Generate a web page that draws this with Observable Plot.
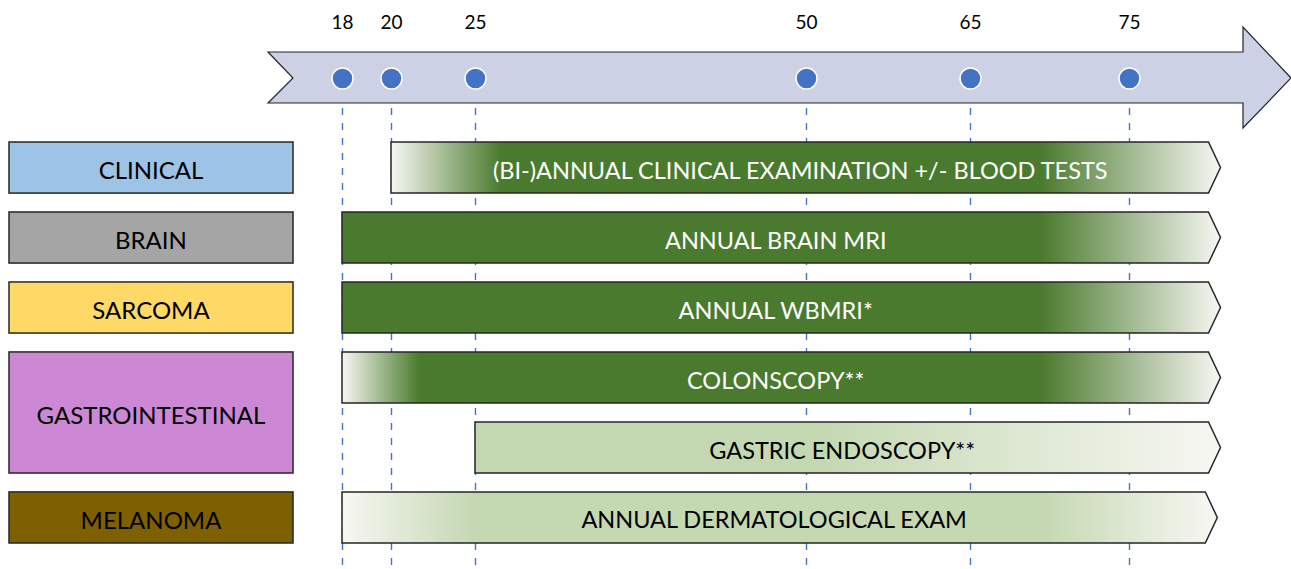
<!DOCTYPE html>
<html><head><meta charset="utf-8">
<script src="https://cdn.jsdelivr.net/npm/d3@7"></script>
<script src="https://cdn.jsdelivr.net/npm/@observablehq/plot@0.6"></script>
<style>html,body{margin:0;padding:0;background:#fff} svg{display:block}</style>
</head><body><div id="chart"></div>
<script>
// ---- data ----
const milestoneAges = [18, 20, 25, 50, 65, 75];
const tickLabels = ["18", "20", "25", "50", "65", "75"];
const groups = ["CLINICAL", "BRAIN", "SARCOMA", "GASTROINTESTINAL", "MELANOMA"];
const groupRows = [["clinical"], ["brain"], ["sarcoma"], ["colonoscopy", "gastric"], ["melanoma"]];
const rows = ["clinical", "brain", "sarcoma", "colonoscopy", "gastric", "melanoma"];
const barLabels = ["(BI-)ANNUAL CLINICAL EXAMINATION +/- BLOOD TESTS", "ANNUAL BRAIN MRI", "ANNUAL WBMRI*", "COLONSCOPY**", "GASTRIC ENDOSCOPY**", "ANNUAL DERMATOLOGICAL EXAM"];
const barStart = [20, 18, 18, 18, 25, 18];      // age the surveillance starts
const barEnd = [80, 80, 80, 80, 80, 79.8];      // age the bar ends
const fullFrom = [27, 18, 18, 21.7, 25, 25];     // age at which the shade is full
const fadeFrom = [69.4, 69.4, 69.4, 69.4, 51.3, 69.4]; // age at which the shade starts to fade
const tone = ["dark", "dark", "dark", "dark", "light", "light"];

// ---- styles ----
const FONT = "Lato, 'Open Sans', sans-serif";
const groupColor = d3.scaleOrdinal(groups, ["#9dc3e6", "#a5a5a5", "#ffd966", "#cc88d4", "#7f6000"]);
const toneFill = {dark: "#4a7a2d", light: "#c4d8b1"};
const toneText = {dark: "#ffffff", light: "#000000"};
const pale = "#f7f7f3";

const xOpts = {type: "linear", domain: milestoneAges, range: [342, 391, 475, 806, 970, 1129]};
const yOpts = {type: "band", domain: rows, range: [142, 543], paddingInner: 0.27, paddingOuter: 0, round: false};
const xs = Plot.scale({x: xOpts});

// top timeline arrow (decoration)
function timelineArrow(index, scales, values, dims) {
  const L = 268, R = dims.width, headX = R - 48;
  const yTop = 27, bTop = 52, yMid = 78, bBot = 103, yBot = 128;
  const g = d3.create("svg:g");
  g.append("path")
    .attr("d", `M${L},${bTop}H${headX}V${yTop}L${R},${yMid}L${headX},${yBot}V${bBot}H${L}L${L + 25},${yMid}Z`)
    .attr("fill", "#cdd1e6").attr("stroke", "#262626").attr("stroke-width", 1.2);
  return g.node();
}

// group boxes + gradient bars
function barsMark(index, scales, values, dims) {
  const {x, y} = scales;
  const bw = y.bandwidth();
  const g = d3.create("svg:g");
  const defs = g.append("defs");
  // category boxes
  groups.forEach((name, i) => {
    const r = groupRows[i];
    const y0 = y(r[0]), y1 = y(r[r.length - 1]) + bw;
    g.append("rect").attr("x", 9).attr("y", y0).attr("width", 284).attr("height", y1 - y0)
      .attr("fill", groupColor(name)).attr("stroke", "#262626").attr("stroke-width", 1.5);
    g.append("text").attr("x", 151).attr("y", (y0 + y1) / 2 + 3).attr("dy", "0.36em")
      .attr("text-anchor", "middle").attr("font-family", FONT).attr("font-size", 24)
      .attr("fill", "#000").text(name);
  });
  // bars
  rows.forEach((r, i) => {
    const x0 = x(barStart[i]), x1 = x(barEnd[i]), tip = x1 + 12;
    const y0 = y(r), y1 = y0 + bw, ym = y0 + bw / 2;
    const full = toneFill[tone[i]];
    const off = v => Math.max(0, Math.min(1, (x(v) - x0) / (tip - x0)));
    const grad = defs.append("linearGradient").attr("id", "bargrad" + i)
      .attr("gradientUnits", "userSpaceOnUse")
      .attr("x1", x0).attr("x2", tip).attr("y1", 0).attr("y2", 0);
    const stops = [[0, fullFrom[i] > barStart[i] ? pale : full], [off(fullFrom[i]), full], [off(fadeFrom[i]), full], [1, pale]];
    stops.forEach(([o, c]) => grad.append("stop").attr("offset", o).attr("stop-color", c));
    g.append("path")
      .attr("d", `M${x0},${y0}H${x1}L${tip},${ym}L${x1},${y1}H${x0}Z`)
      .attr("fill", `url(#bargrad${i})`).attr("stroke", "#262626").attr("stroke-width", 1.5)
      .attr("stroke-linejoin", "miter");
  });
  return g.node();
}

const chart = Plot.plot({
  width: 1291,
  height: 569,
  margin: 0,
  style: {fontFamily: FONT, background: "#fff"},
  x: {...xOpts, axis: null},
  y: {...yOpts, axis: null},
  marks: [
    timelineArrow,
    Plot.ruleX(milestoneAges, {x: d => d, insetTop: 108, stroke: "#4472c4", strokeWidth: 1.4, strokeDasharray: "7,8"}),
    Plot.dot(milestoneAges, {x: d => d, frameAnchor: "top", dy: 78, r: 10.5, fill: "#4472c4", stroke: "#ffffff", strokeWidth: 1.5}),
    Plot.text(milestoneAges, {x: d => d, text: (d, i) => tickLabels[i], frameAnchor: "top", dy: 15, fontSize: 19, fill: "#000"}),
    barsMark,
    Plot.text(rows, {
      x: (d, i) => xs.invert((xs.apply(barStart[i]) + xs.apply(barEnd[i])) / 2),
      y: d => d,
      dy: 3,
      text: (d, i) => barLabels[i],
      fill: (d, i) => toneText[tone[i]],
      fontSize: 23.5
    })
  ]
});
document.getElementById("chart").appendChild(chart);
</script>
</body></html>
